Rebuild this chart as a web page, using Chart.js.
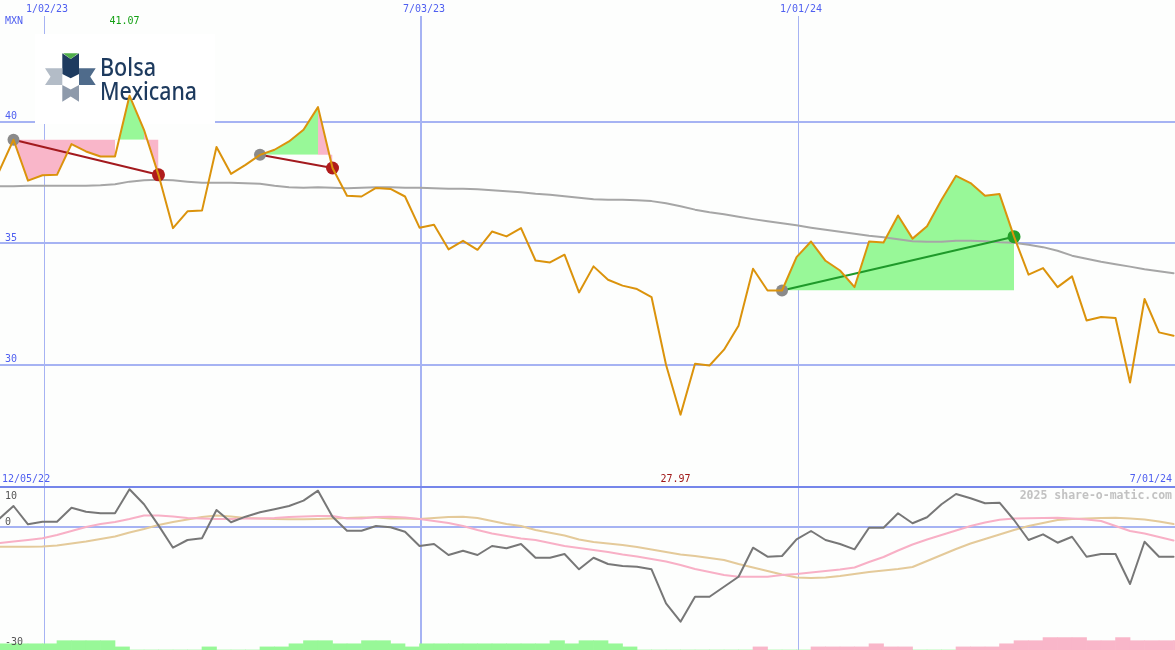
<!DOCTYPE html>
<html>
<head>
<meta charset="utf-8">
<script src="https://cdn.jsdelivr.net/npm/chart.js@4.4.1/dist/chart.umd.min.js"></script>
<style>
  html, body { margin: 0; padding: 0; background: #fdfefd; }
  #wrap { position: relative; width: 1175px; height: 650px; overflow: hidden; background: #fdfefd; }
  #priceChart { position: absolute; left: 0; top: 0; }
  #oscChart { position: absolute; left: 0; top: 486px; }
</style>
</head>
<body>
<div id="wrap">
  <canvas id="priceChart" width="1175" height="486"></canvas>
  <canvas id="oscChart" width="1175" height="164"></canvas>
</div>
<script>
// weekly closes, MXN (week 0 = mid Dec 2022)
const price = [
  37.95, 39.26, 37.58, 37.80, 37.82, 39.08, 38.78, 38.57, 38.57, 41.07,
  39.67, 37.82, 35.63, 36.32, 36.35, 38.96, 37.86, 38.23, 38.64, 38.85,
  39.19, 39.67, 40.60, 38.10, 36.96, 36.93, 37.28, 37.24, 36.93, 35.65,
  35.77, 34.76, 35.11, 34.74, 35.49, 35.29, 35.63, 34.30, 34.22, 34.54,
  32.99, 34.06, 33.51, 33.27, 33.13, 32.80, 30.02, 27.97, 30.06, 29.99,
  30.64, 31.62, 33.96, 33.07, 33.07, 34.44, 35.08, 34.29, 33.89, 33.21,
  35.08, 35.04, 36.15, 35.20, 35.71, 36.80, 37.78, 37.48, 36.96, 37.03,
  35.28, 33.72, 33.99, 33.21, 33.65, 31.84, 31.98, 31.94, 29.29, 32.72,
  31.35, 31.21
];
// long moving average (grey)
const average = [
  37.35, 37.35, 37.37, 37.37, 37.37, 37.37, 37.37, 37.39, 37.43, 37.54,
  37.60, 37.62, 37.60, 37.54, 37.49, 37.49, 37.49, 37.47, 37.45, 37.37,
  37.31, 37.29, 37.31, 37.29, 37.27, 37.29, 37.31, 37.31, 37.29, 37.29,
  37.27, 37.25, 37.25, 37.23, 37.19, 37.15, 37.10, 37.04, 37.00, 36.94,
  36.88, 36.82, 36.80, 36.80, 36.78, 36.74, 36.65, 36.53, 36.39, 36.28,
  36.20, 36.10, 36.00, 35.91, 35.83, 35.75, 35.65, 35.56, 35.48, 35.40,
  35.32, 35.26, 35.17, 35.09, 35.07, 35.07, 35.11, 35.11, 35.09, 35.05,
  35.03, 34.95, 34.85, 34.70, 34.50, 34.37, 34.25, 34.15, 34.05, 33.94,
  33.86, 33.78
];
// lower panel: distance from average in % and its two smoothings
const momentum = [
  2.0, 5.25, 0.68, 1.33, 1.33, 4.83, 3.83, 3.43, 3.43, 9.43,
  5.68, 0.4, -5.18, -3.25, -2.83, 4.25, 1.18, 2.58, 3.68, 4.43,
  5.25, 6.58, 9.08, 2.58, -0.93, -0.93, 0.25, -0.08, -1.18, -4.75,
  -4.25, -7.0, -5.93, -7.0, -4.75, -5.33, -4.25, -7.68, -7.68, -6.75,
  -10.58, -7.68, -9.25, -9.75, -9.93, -10.58, -19.08, -23.68, -17.43, -17.43,
  -14.93, -12.43, -5.18, -7.43, -7.25, -3.08, -1.0, -3.25, -4.25, -5.58,
  -0.18, -0.18, 3.43, 0.93, 2.43, 5.68, 8.25, 7.18, 5.93, 6.08,
  1.75, -3.25, -1.83, -3.93, -2.43, -7.43, -6.75, -6.75, -14.25, -3.68,
  -7.43, -7.43
];
const momFast = [
  -4.0, -3.63, -3.25, -2.83, -2.0, -1.0, 0, 0.75, 1.25, 2.0,
  2.88, 2.88, 2.63, 2.25, 2.13, 2.0, 2.0, 2.13, 2.13, 2.25,
  2.5, 2.63, 2.75, 2.75, 2.13, 2.13, 2.5, 2.58, 2.38, 2.0,
  1.5, 1.0, 0.25, -0.75, -1.63, -2.25, -2.88, -3.25, -4.0, -4.75,
  -5.25, -5.75, -6.25, -6.88, -7.38, -8.0, -8.63, -9.5, -10.5, -11.25,
  -12.0, -12.43, -12.43, -12.43, -12.0, -11.75, -11.38, -11.0, -10.63, -10.13,
  -8.75, -7.5, -5.88, -4.38, -3.13, -2.0, -0.88, 0.25, 1.13, 1.83,
  2.13, 2.18, 2.25, 2.33, 2.13, 1.88, 1.5, 0.25, -1.0, -1.63,
  -2.5, -3.38
];
const momSlow = [
  -4.93, -4.93, -4.93, -4.88, -4.63, -4.13, -3.63, -3.0, -2.38, -1.38,
  -0.5, 0.5, 1.25, 1.88, 2.5, 2.88, 2.63, 2.25, 2.13, 2.0,
  1.93, 1.93, 2.0, 2.13, 2.25, 2.38, 2.38, 2.13, 2.13, 2.0,
  2.25, 2.5, 2.58, 2.25, 1.5, 0.75, 0.25, -0.75, -1.43, -2.13,
  -3.13, -3.75, -4.13, -4.5, -5.0, -5.63, -6.25, -6.88, -7.25, -7.75,
  -8.25, -9.25, -10.13, -11.0, -11.88, -12.63, -12.75, -12.63, -12.25, -11.75,
  -11.25, -10.88, -10.5, -10.0, -8.5, -7.0, -5.5, -4.13, -3.0, -1.88,
  -0.75, 0.25, 1.0, 1.75, 2.0, 2.13, 2.25, 2.33, 2.13, 1.88,
  1.38, 0.75
];
// trend strength per week: + up (green), - down (pink)
const trend = [
  2, 2, 2, 2, 3, 3, 3, 3, 1, 0,
  0, 0, 0, 0, 1, 0, 0, 0, 1, 1,
  2, 3, 3, 2, 2, 3, 3, 2, 1, 2,
  2, 2, 2, 2, 2, 2, 2, 2, 3, 2,
  3, 3, 2, 1, 0, 0, 0, 0, 0, 0,
  0, 0, -1, 0, 0, 0, -1, -1, -1, -1,
  -2, -1, -1, 0, 0, 0, -1, -1, -1, -2,
  -3, -3, -4, -4, -4, -3, -3, -4, -3, -3,
  -3, -3
];
// trades (week indexes)
const tradeIn = [1, 18, 54];
const tradeOut = [11, 23, 70];
// shaded stretches inside the trades
const shadeFrom = [1, 8, 10, 18, 22, 54];
const shadeTo = [8, 10, 11, 22, 23, 70];
const shadeGain = [false, true, false, true, false, true];
// date grid
const dateWeeks = [3, 29, 55];
const dateLabels = ['1/02/23', '7/03/23', '1/01/24'];
const firstDate = '12/05/22';
const lastDate = '7/01/24';
const priceTicks = [40, 35, 30];
const oscTicks = [10, 0, -30];
const currency = 'MXN';

const X_MIN = 0.07, X_MAX = 81.1;
const GRID = '#a6b3f3';
const BORDER = '#7586ea';
const BLUE_TEXT = '#4f5ff0';
const GREEN = '#98f898';
const PINK = '#f9b6c9';
const NONE = 'rgba(0,0,0,0)';
const FONT = '10px "DejaVu Sans Mono"';

const pts = arr => arr.map((v, i) => ({ x: i, y: v }));
const span = (arr, a, b) => arr.slice(a, b + 1).map((v, k) => ({ x: a + k, y: v }));

function text(ctx, str, x, y, color, align, font) {
  ctx.font = font || FONT;
  ctx.fillStyle = color;
  ctx.textAlign = align || 'left';
  ctx.textBaseline = 'middle';
  ctx.fillText(str, x, y);
}

function poly(ctx, color, p) {
  ctx.fillStyle = color;
  ctx.beginPath();
  ctx.moveTo(p[0][0], p[0][1]);
  for (let i = 1; i < p.length; i++) ctx.lineTo(p[i][0], p[i][1]);
  ctx.closePath();
  ctx.fill();
}

function drawLogo(ctx) {
  ctx.fillStyle = '#ffffff';
  ctx.fillRect(35, 34, 180, 90);
  poly(ctx, '#1e3b60', [[62.3, 53.3], [70.7, 59], [79, 53.3], [79, 74], [70.7, 78.3], [62.3, 74]]);
  poly(ctx, '#4fae4a', [[63, 53.3], [78.3, 53.3], [70.7, 59]]);
  poly(ctx, '#b3bcc7', [[45, 68.3], [62.3, 68.3], [62.3, 85], [45, 85], [50.5, 76.7]]);
  poly(ctx, '#4f6b8b', [[79, 68.3], [95.7, 68.3], [90.2, 76.7], [95.7, 85], [79, 85]]);
  poly(ctx, '#8e9aab', [[62.3, 85], [70.7, 89.5], [79, 85], [79, 101.7], [70.7, 96.5], [62.3, 101.7]]);
  ctx.fillStyle = '#1d3a5e';
  ctx.font = '500 26px "Noto Sans"';
  ctx.textAlign = 'left';
  ctx.textBaseline = 'alphabetic';
  ctx.fillText('Bolsa', 100, 75.5, 56);
  ctx.fillText('Mexicana', 100, 100, 97);
}

function vLines(ctx, x, top, bottom) {
  ctx.fillStyle = GRID;
  dateWeeks.forEach((w, k) => {
    const px = Math.round(x.getPixelForValue(w) + 1.5);
    const wide = dateLabels[k].startsWith('7/');
    ctx.fillRect(wide ? px - 1 : px, top, wide ? 2 : 1, bottom - top);
  });
}

const priceDeco = {
  id: 'priceDeco',
  beforeDatasetsDraw(chart) {
    const { ctx, scales: { x, y } } = chart;
    ctx.save();
    ctx.fillStyle = GRID;
    priceTicks.forEach(v => {
      const py = Math.round(y.getPixelForValue(v));
      ctx.fillRect(0, py - 1, chart.width, 2);
    });
    vLines(ctx, x, 16, chart.height);
    drawLogo(ctx);
    ctx.restore();
  },
  afterDraw(chart) {
    const { ctx, scales: { x, y } } = chart;
    ctx.save();
    text(ctx, currency, 5, 21.5, BLUE_TEXT);
    const hi = price.indexOf(Math.max(...price));
    const lo = price.indexOf(Math.min(...price));
    text(ctx, price[hi].toFixed(2), x.getPixelForValue(hi) - 5, 21.5, '#14a014', 'center');
    dateWeeks.forEach((w, k) => {
      text(ctx, dateLabels[k], x.getPixelForValue(w) + 4.5, 9, BLUE_TEXT, 'center');
    });
    priceTicks.forEach(v => {
      text(ctx, String(v), 5, y.getPixelForValue(v) - 5.5, BLUE_TEXT);
    });
    text(ctx, firstDate, 2, 479, BLUE_TEXT);
    text(ctx, price[lo].toFixed(2), x.getPixelForValue(lo) - 5, 479, '#a01818', 'center');
    text(ctx, lastDate, 1172, 479, BLUE_TEXT, 'right');
    ctx.restore();
  }
};

const oscDeco = {
  id: 'oscDeco',
  beforeDatasetsDraw(chart) {
    const { ctx, scales: { x, y } } = chart;
    ctx.save();
    ctx.fillStyle = GRID;
    const z = Math.round(y.getPixelForValue(0));
    ctx.fillRect(0, z - 1, chart.width, 2);
    vLines(ctx, x, 2, chart.height);
    ctx.fillStyle = BORDER;
    ctx.fillRect(0, 0, chart.width, 2);
    ctx.restore();
  },
  afterDraw(chart) {
    const { ctx, scales: { y } } = chart;
    ctx.save();
    oscTicks.forEach(v => {
      text(ctx, String(v), 5, Math.max(y.getPixelForValue(v) - 5, 10), '#555555');
    });
    text(ctx, '2025 share-o-matic.com', 1172, 10, '#c2c2c2', 'right', 'bold 11.5px "DejaVu Sans Mono"');
    ctx.restore();
  }
};

function baseOptions(yMin, yMax, extra) {
  return {
    responsive: false,
    devicePixelRatio: 1,
    animation: false,
    events: [],
    layout: { padding: 0, autoPadding: false },
    plugins: { legend: { display: false }, tooltip: { enabled: false } },
    elements: {
      point: { radius: 0 },
      line: { tension: 0, borderJoinStyle: 'round', borderCapStyle: 'round' }
    },
    scales: Object.assign({
      x: { type: 'linear', min: X_MIN, max: X_MAX, offset: false, display: false },
      y: { type: 'linear', min: yMin, max: yMax, display: false }
    }, extra || {})
  };
}

const shadeSets = shadeFrom.map((a, k) => {
  const t = tradeIn.findIndex((s, n) => s <= a && shadeTo[k] <= tradeOut[n]);
  return {
    data: span(price, a, shadeTo[k]),
    borderWidth: 0,
    borderColor: NONE,
    fill: {
      target: { value: price[tradeIn[t]] },
      above: shadeGain[k] ? GREEN : PINK,
      below: shadeGain[k] ? NONE : PINK
    },
    order: 4
  };
});

const tradeSets = tradeIn.map((a, t) => {
  const b = tradeOut[t];
  const win = price[b] > price[a];
  return {
    data: [{ x: a, y: price[a] }, { x: b, y: price[b] }],
    borderColor: win ? '#1f9a2a' : '#a31a1e',
    borderWidth: 2,
    pointRadius: [6, 6.5],
    pointBackgroundColor: ['#8a8a8a', win ? '#22a02a' : '#b01c1c'],
    pointBorderWidth: 0,
    pointBorderColor: NONE,
    fill: false,
    order: 2
  };
});

new Chart(document.getElementById('priceChart'), {
  type: 'line',
  data: {
    datasets: [
      { data: pts(price), borderColor: '#db930c', borderWidth: 2, fill: false, order: 0 },
      ...tradeSets,
      { data: pts(average), borderColor: '#a6a6a6', borderWidth: 2, fill: false, order: 3 },
      ...shadeSets
    ]
  },
  options: baseOptions(25.04, 45),
  plugins: [priceDeco]
});

new Chart(document.getElementById('oscChart'), {
  type: 'line',
  data: {
    datasets: [
      { data: pts(momentum), borderColor: '#777777', borderWidth: 2, fill: false, order: 0 },
      { data: pts(momFast), borderColor: '#f8b0c6', borderWidth: 2, fill: false, order: 1 },
      { data: pts(momSlow), borderColor: '#e4ca9a', borderWidth: 2, fill: false, order: 2 },
      {
        type: 'bar',
        data: trend.map((v, i) => ({ x: i + 0.5, y: Math.abs(v) })),
        backgroundColor: trend.map(v => (v >= 0 ? GREEN : PINK)),
        barPercentage: 1,
        categoryPercentage: 1,
        yAxisID: 'yb',
        order: 3
      }
    ]
  },
  options: baseOptions(-30.75, 10.25, { yb: { type: 'linear', min: 0, max: 52.9, display: false } }),
  plugins: [oscDeco]
});
</script>
</body>
</html>
